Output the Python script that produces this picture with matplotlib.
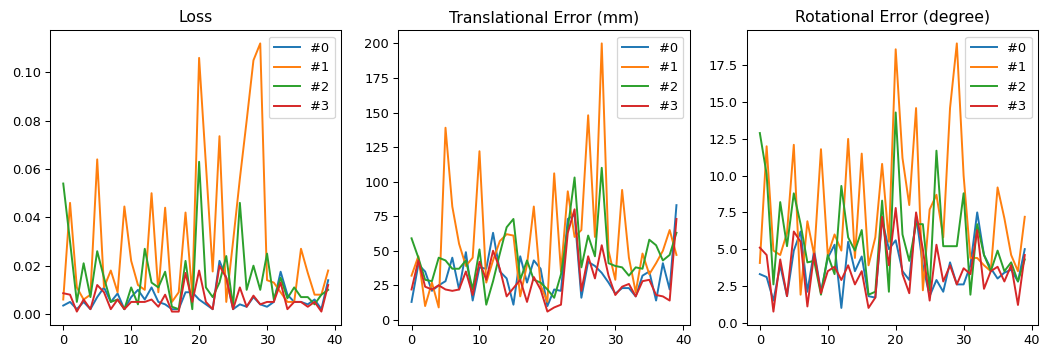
import matplotlib
matplotlib.use("Agg")
import matplotlib.pyplot as plt
import numpy as np

titles = ["Loss", "Translational Error (mm)", "Rotational Error (degree)"]
labels = ["#0", "#1", "#2", "#3"]

loss_0 = [0.0035, 0.005, 0.002, 0.005, 0.002, 0.007, 0.011, 0.005, 0.0085, 0.002,
          0.007, 0.010, 0.006, 0.011, 0.005, 0.004, 0.002, 0.002, 0.009, 0.009,
          0.006, 0.004, 0.002, 0.022, 0.015, 0.002, 0.004, 0.003, 0.007, 0.004,
          0.003, 0.005, 0.0175, 0.008, 0.005, 0.005, 0.004, 0.006, 0.002, 0.014]
loss_1 = [0.006, 0.046, 0.011, 0.006, 0.008, 0.064, 0.011, 0.018, 0.009, 0.0445,
          0.022, 0.012, 0.010, 0.050, 0.009, 0.044, 0.005, 0.009, 0.042, 0.008,
          0.106, 0.062, 0.0176, 0.0736, 0.005, 0.030, 0.056, 0.080, 0.105, 0.112,
          0.014, 0.013, 0.009, 0.005, 0.005, 0.027, 0.017, 0.008, 0.008, 0.018]
loss_2 = [0.054, 0.030, 0.005, 0.021, 0.007, 0.026, 0.015, 0.005, 0.006, 0.002,
          0.011, 0.004, 0.027, 0.013, 0.011, 0.0175, 0.003, 0.002, 0.022, 0.002,
          0.063, 0.011, 0.007, 0.013, 0.024, 0.003, 0.046, 0.010, 0.020, 0.010,
          0.025, 0.006, 0.015, 0.0065, 0.011, 0.007, 0.007, 0.004, 0.008, 0.010]
loss_3 = [0.0086, 0.008, 0.001, 0.006, 0.002, 0.012, 0.009, 0.002, 0.006, 0.002,
          0.005, 0.005, 0.005, 0.006, 0.003, 0.008, 0.001, 0.001, 0.017, 0.005,
          0.018, 0.005, 0.002, 0.020, 0.015, 0.002, 0.011, 0.003, 0.0076, 0.004,
          0.005, 0.005, 0.013, 0.002, 0.005, 0.005, 0.003, 0.005, 0.001, 0.012]

trans_0 = [13, 40, 35, 21, 25, 28, 45, 22, 49, 14, 38, 37, 63, 35, 30, 11, 46, 27, 43, 37,
           10, 22, 21, 73, 76, 16, 42, 39, 34, 27, 19, 23, 23, 17, 32, 35, 14, 41, 22, 83]
trans_1 = [32, 46, 10, 27, 9, 139, 82, 55, 39, 45, 122, 27, 43, 57, 62, 61, 17, 40, 82, 25,
           13, 106, 35, 93, 60, 65, 148, 60, 200, 50, 29, 94, 45, 20, 48, 33, 41, 50, 65, 47]
trans_2 = [59, 45, 29, 28, 45, 43, 37, 37, 43, 22, 51, 11, 28, 48, 67, 73, 29, 43, 29, 27,
           22, 16, 33, 66, 103, 38, 61, 46, 110, 41, 39, 38, 32, 38, 37, 58, 54, 43, 47, 63]
trans_3 = [22, 43, 24, 22, 25, 22, 21, 22, 35, 18, 42, 29, 50, 37, 17, 23, 29, 13, 31, 22,
           6, 9, 11, 63, 80, 21, 46, 30, 54, 32, 18, 24, 26, 17, 28, 29, 18, 17, 14, 73]

rot_0 = [3.3, 3.1, 1.5, 3.9, 1.8, 4.9, 6.2, 2.1, 4.9, 2.1, 4.4, 5.3, 1.0, 5.5, 3.5, 4.5,
         1.8, 1.7, 7.0, 5.0, 5.6, 3.5, 2.9, 7.3, 3.9, 1.8, 2.9, 2.1, 4.1, 2.6, 2.6, 3.9,
         7.5, 4.6, 3.7, 3.0, 3.4, 3.6, 2.8, 5.0]
rot_1 = [4.06, 12.0, 4.9, 4.6, 6.1, 12.1, 1.9, 6.9, 4.6, 11.8, 4.6, 6.0, 4.9, 12.5, 4.4, 11.5,
         3.9, 5.8, 10.8, 5.5, 18.6, 11.2, 8.0, 14.6, 2.2, 7.7, 8.7, 5.8, 14.6, 19.0, 10.0, 4.4,
         4.4, 3.9, 3.5, 9.2, 7.1, 4.6, 3.5, 7.2]
rot_2 = [12.9, 10.1, 2.6, 8.2, 5.2, 8.8, 6.7, 4.1, 4.2, 1.9, 4.6, 3.3, 9.3, 5.8, 4.9, 6.3,
         1.9, 2.1, 8.3, 2.1, 14.3, 6.0, 4.2, 6.7, 6.7, 2.2, 11.7, 5.2, 5.2, 5.2, 8.8, 1.9,
         6.7, 4.6, 3.5, 4.9, 3.5, 4.1, 2.8, 4.3]
rot_3 = [5.1, 4.6, 0.75, 4.3, 1.8, 6.2, 5.5, 1.1, 4.7, 2.0, 3.5, 3.8, 2.9, 3.9, 2.6, 3.5,
         1.0, 1.7, 7.2, 3.9, 7.8, 3.3, 2.0, 7.5, 5.0, 1.5, 5.3, 2.8, 3.9, 2.6, 3.7, 3.3,
         6.3, 2.3, 3.5, 3.8, 2.8, 3.9, 1.2, 4.6]

panels = [
    [loss_0, loss_1, loss_2, loss_3],
    [trans_0, trans_1, trans_2, trans_3],
    [rot_0, rot_1, rot_2, rot_3],
]

# the reference looks like a default notebook figure blown up by ~1.3x
dpi = 72 * 1.3
fig, axes = plt.subplots(1, 3, figsize=(1061 / dpi, 354 / dpi), dpi=dpi)
fig.subplots_adjust(left=50 / 1061, right=1038 / 1061, bottom=29 / 354,
                    top=324 / 354, wspace=57 / 292)

for ax, title, series in zip(axes, titles, panels):
    for vals, lab in zip(series, labels):
        ax.plot(np.arange(len(vals)), vals, label=lab)
    ax.set_title(title)
    ax.legend(loc="upper right")

fig.savefig("out.png", dpi=dpi)
